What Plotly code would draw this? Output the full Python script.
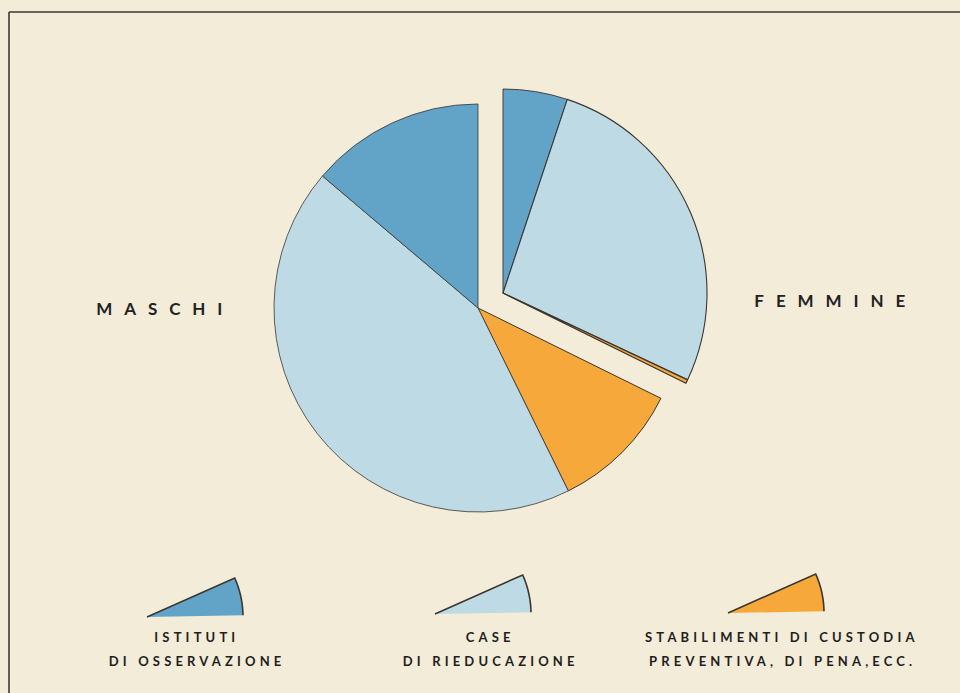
import numpy as np
import plotly.graph_objects as go

# Share of minors in each type of institution, percent of the grand total
categories = ["Istituti di osservazione", "Case di rieducazione",
              "Stabilimenti di custodia preventiva, di pena, ecc."]
maschi = [13.8, 43.5, 10.4]
femmine = [5.1, 26.9, 0.3]
group_labels = ["MASCHI", "FEMMINE"]
legend_lines = [["ISTITUTI", "DI OSSERVAZIONE"],
                ["CASE", "DI RIEDUCAZIONE"],
                ["STABILIMENTI DI CUSTODIA", "PREVENTIVA, DI PENA,ECC."]]

W, H = 960, 693
BG = "#f3ecd9"
COLORS = ["#62a4c8", "#bddae5", "#f6a93a"]
EDGE = "#3b3630"
CLEAR = "rgba(0,0,0,0)"


def px(x, y):
    """pixel position -> paper coordinates"""
    return x / W, 1 - y / H


def dom(cx, cy, r):
    x0, y1 = px(cx - r, cy - r)
    x1, y0 = px(cx + r, cy + r)
    return dict(x=[x0, x1], y=[y0, y1])


R = 204
fig = go.Figure()

# males: the female share is left blank; walking clockwise from 12 o'clock
# puts the male categories on the left half, ending back at 12 o'clock
fig.add_trace(go.Pie(
    labels=["femmine"] + categories[::-1],
    values=[sum(femmine)] + maschi[::-1],
    sort=False, direction="clockwise", rotation=0,
    marker=dict(colors=[CLEAR] + COLORS[::-1],
                line=dict(color=EDGE, width=[0, 1, 0.8, 0.8])),
    textinfo="none", hoverinfo="label+percent", showlegend=False,
    domain=dom(478, 308, R),
))

# females: clockwise from 12 o'clock, detached from the male disc
fig.add_trace(go.Pie(
    labels=categories + ["maschi"],
    values=femmine + [sum(maschi)],
    sort=False, direction="clockwise", rotation=0,
    marker=dict(colors=COLORS + [CLEAR],
                line=dict(color=EDGE, width=[0.9, 1.1, 1.2, 0])),
    textinfo="none", hoverinfo="label+percent", showlegend=False,
    domain=dom(503, 293, R),
))

shapes = []
# frame lines (top and left)
x0, y0 = px(9, 12)
x1, _ = px(W + 5, 12)
_, y1 = px(9, H + 5)
shapes.append(dict(type="line", xref="paper", yref="paper", x0=x0, y0=y0, x1=x1, y1=y0,
                   line=dict(color="#3a3a3a", width=1.6)))
shapes.append(dict(type="line", xref="paper", yref="paper", x0=x0, y0=y0, x1=x0, y1=y1,
                   line=dict(color="#3a3a3a", width=1.6)))


def wedge_paths(ax, ay, r, a0, a1):
    t = np.radians(np.linspace(a0, a1, 24))
    arc = [px(ax + r * np.cos(a), ay - r * np.sin(a)) for a in t]
    apex = px(ax, ay)
    fill = "M {} {} ".format(*apex) + " ".join("L {} {}".format(*p) for p in arc) + " Z"
    edge = ("M {} {} ".format(*apex) + "L {} {} ".format(*arc[-1])
            + " ".join("L {} {}".format(*p) for p in arc[::-1]))
    return fill, edge


# legend glyphs: small sectors
for (ax, ay), col in zip([(147, 617), (435, 614), (728, 613)], COLORS):
    fill, edge = wedge_paths(ax, ay, 96, 1.0, 24.0)
    shapes.append(dict(type="path", xref="paper", yref="paper", path=fill,
                       fillcolor=col, line=dict(width=0)))
    shapes.append(dict(type="path", xref="paper", yref="paper", path=edge,
                       line=dict(color=EDGE, width=1.6)))

annotations = []
for text, (cx, cy) in zip(group_labels, [(160, 308), (831, 300)]):
    x, y = px(cx, cy)
    annotations.append(dict(text=text, x=x, y=y, xref="paper", yref="paper",
                            xanchor="center", yanchor="middle", showarrow=False,
                            xshift=5,
                            font=dict(family="Lato", size=17, color="#222222", weight="bold")))

for lines, (cx, cy) in zip(legend_lines, [(195, 637), (488, 637), (780, 637)]):
    for i, line in enumerate(lines):
        x, y = px(cx, cy + 24 * i)
        annotations.append(dict(text=line, x=x, y=y, xref="paper", yref="paper",
                                xanchor="center", yanchor="middle", showarrow=False,
                                xshift=2,
                                font=dict(family="Lato", size=13, color="#1e1e1e", weight="bold")))

fig.update_layout(
    width=W, height=H,
    margin=dict(l=0, r=0, t=0, b=0),
    paper_bgcolor=BG, plot_bgcolor=BG,
    shapes=shapes, annotations=annotations,
    showlegend=False,
)

# wide letter tracking for the lettering
tracking = """
var st = document.createElement('style');
st.textContent = "text.annotation-text[style*='font-size: 17px']{letter-spacing:0.7em;}" +
                 "text.annotation-text[style*='font-size: 13px']{letter-spacing:0.32em;}";
document.head.appendChild(st);
"""

fig.write_html("out.html", post_script=tracking)
